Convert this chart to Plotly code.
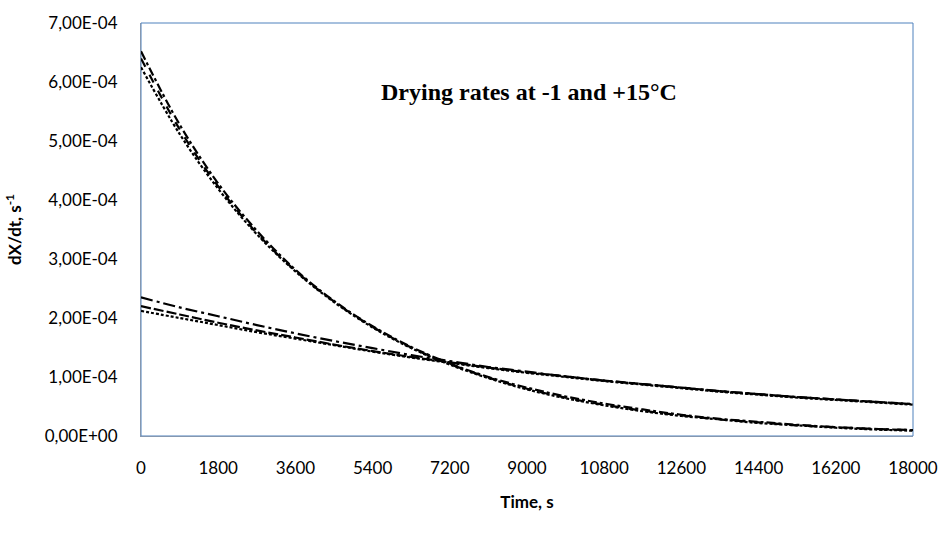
import plotly.graph_objects as go
import numpy as np

time_s = [0, 900, 1800, 2700, 3600, 4500, 5400, 6300, 7200, 8100, 9000,
          9900, 10800, 11700, 12600, 13500, 14400, 15300, 16200, 17100, 18000]

# values in units of 1e-4 s^-1
fast_dashdot = [6.52, 5.28, 4.28, 3.48, 2.82, 2.29, 1.86, 1.51, 1.23, 1.00, 0.82,
                0.67, 0.55, 0.45, 0.36, 0.29, 0.24, 0.19, 0.15, 0.12, 0.10]
fast_dash = [6.40, 5.20, 4.23, 3.44, 2.80, 2.28, 1.85, 1.50, 1.22, 0.99, 0.80,
             0.65, 0.53, 0.43, 0.35, 0.28, 0.23, 0.18, 0.15, 0.12, 0.10]
fast_dot = [6.25, 5.12, 4.19, 3.42, 2.79, 2.27, 1.84, 1.49, 1.21, 0.98, 0.79,
            0.64, 0.52, 0.42, 0.34, 0.28, 0.22, 0.18, 0.14, 0.11, 0.09]

slow_dashdot = [2.35, 2.18, 2.03, 1.88, 1.74, 1.61, 1.49, 1.37, 1.27, 1.17, 1.09,
                1.01, 0.94, 0.88, 0.82, 0.76, 0.71, 0.66, 0.62, 0.58, 0.54]
slow_dash = [2.20, 2.06, 1.92, 1.79, 1.67, 1.55, 1.44, 1.34, 1.25, 1.16, 1.08,
             1.01, 0.94, 0.88, 0.82, 0.76, 0.71, 0.66, 0.62, 0.58, 0.54]
slow_dot = [2.12, 2.00, 1.88, 1.76, 1.65, 1.54, 1.43, 1.33, 1.24, 1.15, 1.07,
            1.00, 0.93, 0.87, 0.81, 0.75, 0.70, 0.65, 0.61, 0.57, 0.53]

x_ticks = [0, 1800, 3600, 5400, 7200, 9000, 10800, 12600, 14400, 16200, 18000]
y_tick_vals = [0, 1e-4, 2e-4, 3e-4, 4e-4, 5e-4, 6e-4, 7e-4]
y_tick_text = ["0,00E+00", "1,00E-04", "2,00E-04", "3,00E-04", "4,00E-04",
               "5,00E-04", "6,00E-04", "7,00E-04"]

series = [
    (fast_dashdot, "dashdot"),
    (fast_dash, "dash"),
    (fast_dot, "3px,2px"),
    (slow_dashdot, "12px,4px,3px,4px"),
    (slow_dash, "10px,3px"),
    (slow_dot, "3px,2px"),
]

fig = go.Figure()
for vals, dash in series:
    fig.add_trace(go.Scatter(
        x=time_s, y=np.array(vals) * 1e-4, mode="lines",
        line=dict(color="black", width=2.2, dash=dash, shape="spline"),
        showlegend=False, hoverinfo="skip"))

tick_font = dict(family="Lato, 'Open Sans', sans-serif", size=17, color="black")
title_font = dict(family="Lato, sans-serif", size=17, color="black")

fig.update_layout(
    width=950, height=545,
    margin=dict(l=141, r=35, t=16, b=109),
    paper_bgcolor="white", plot_bgcolor="white",
    xaxis=dict(range=[0, 18000], tickvals=x_ticks, ticktext=[str(v) for v in x_ticks],
               showgrid=False, zeroline=False, showline=True, linecolor="#8497B0",
               linewidth=1, ticks="outside", ticklen=17, tickcolor="rgba(0,0,0,0)",
               tickfont=tick_font,
               title=dict(text="<b>Time, s</b>", font=title_font, standoff=18)),
    yaxis=dict(range=[0, 7e-4], tickvals=y_tick_vals, ticktext=y_tick_text,
               showgrid=False, zeroline=False, showline=True, linecolor="#8497B0",
               linewidth=1, ticks="outside", ticklen=19, tickcolor="rgba(0,0,0,0)",
               tickfont=tick_font,
               title=dict(text="<b>dX/dt, s<sup>-1</sup></b>", font=title_font, standoff=18)),
    shapes=[dict(type="rect", xref="paper", yref="paper", x0=0, y0=0, x1=1, y1=1,
                 line=dict(color="#4F81BD", width=1), layer="below")],
    annotations=[dict(text="<b>Drying rates at -1 and +15°C</b>", xref="paper", yref="paper",
                      x=0.502, y=0.833, xanchor="center", yanchor="middle", showarrow=False,
                      font=dict(family="'Liberation Serif', 'Times New Roman', serif", size=24, color="black"))],
)

fig.write_html("out.html")
